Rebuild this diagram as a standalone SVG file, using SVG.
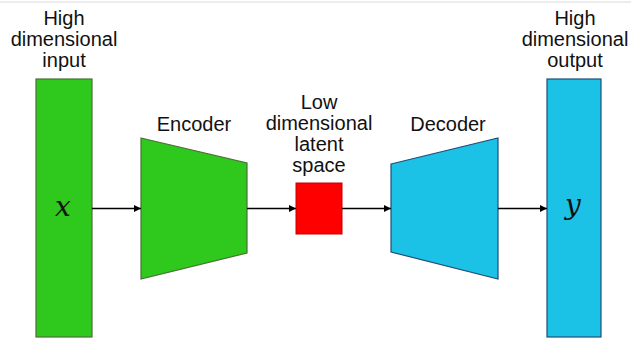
<svg xmlns="http://www.w3.org/2000/svg" width="631" height="338" viewBox="0 0 631 338">
  <defs>
    <marker id="arrow" viewBox="0 0 10 10" refX="10" refY="5" markerWidth="7" markerHeight="7" markerUnits="userSpaceOnUse" orient="auto">
      <path d="M0,0 L10,5 L0,10 z" fill="#000"/>
    </marker>
    <style>
      .label { font-family: "Liberation Sans", Arial, sans-serif; font-size: 20px; fill: #111; text-anchor: middle; }
      .math { font-family: "DejaVu Serif", "Liberation Serif", serif; font-style: italic; font-size: 28px; fill: #111; text-anchor: middle; }
      .green { fill: #2fc81c; stroke: #4a7034; stroke-width: 1.2; }
      .blue { fill: #1cc2e6; stroke: #1f4e79; stroke-width: 1.2; }
      .red { fill: #ff0000; stroke: #c00000; stroke-width: 1; }
      .conn { stroke: #000; stroke-width: 1.3; fill: none; marker-end: url(#arrow); }
    </style>
  </defs>

  <rect x="0" y="0" width="631" height="338" fill="#fff"/>
  <line x1="0" y1="2" x2="631" y2="2" stroke="#d9d9d9" stroke-width="1.2"/>

  <!-- input vector -->
  <g id="input">
    <rect class="green" x="36" y="79" width="56" height="258"/>
    <text class="math" x="63" y="216">x</text>
    <text class="label" x="64" y="25">High</text>
    <text class="label" x="64" y="46">dimensional</text>
    <text class="label" x="64" y="67">input</text>
  </g>

  <!-- encoder -->
  <g id="encoder">
    <polygon class="green" points="141,138 247,163 247,253 141,279"/>
    <text class="label" x="194" y="131">Encoder</text>
  </g>

  <!-- latent code -->
  <g id="latent">
    <rect class="red" x="296" y="183" width="46" height="51"/>
    <text class="label" x="319" y="109">Low</text>
    <text class="label" x="319" y="130">dimensional</text>
    <text class="label" x="319" y="151">latent</text>
    <text class="label" x="319" y="172">space</text>
  </g>

  <!-- decoder -->
  <g id="decoder">
    <polygon class="blue" points="391,164 498,138 498,279 391,252"/>
    <text class="label" x="448" y="131">Decoder</text>
  </g>

  <!-- output vector -->
  <g id="output">
    <rect class="blue" x="547" y="79" width="54" height="258"/>
    <text class="math" x="573" y="214">y</text>
    <text class="label" x="575" y="25">High</text>
    <text class="label" x="575" y="46">dimensional</text>
    <text class="label" x="575" y="67">output</text>
  </g>

  <!-- data flow -->
  <g id="connectors">
    <line class="conn" x1="92" y1="208.5" x2="141" y2="208.5"/>
    <line class="conn" x1="247" y1="208.5" x2="296" y2="208.5"/>
    <line class="conn" x1="342" y1="208.5" x2="391" y2="208.5"/>
    <line class="conn" x1="498" y1="208.5" x2="547" y2="208.5"/>
  </g>
</svg>
